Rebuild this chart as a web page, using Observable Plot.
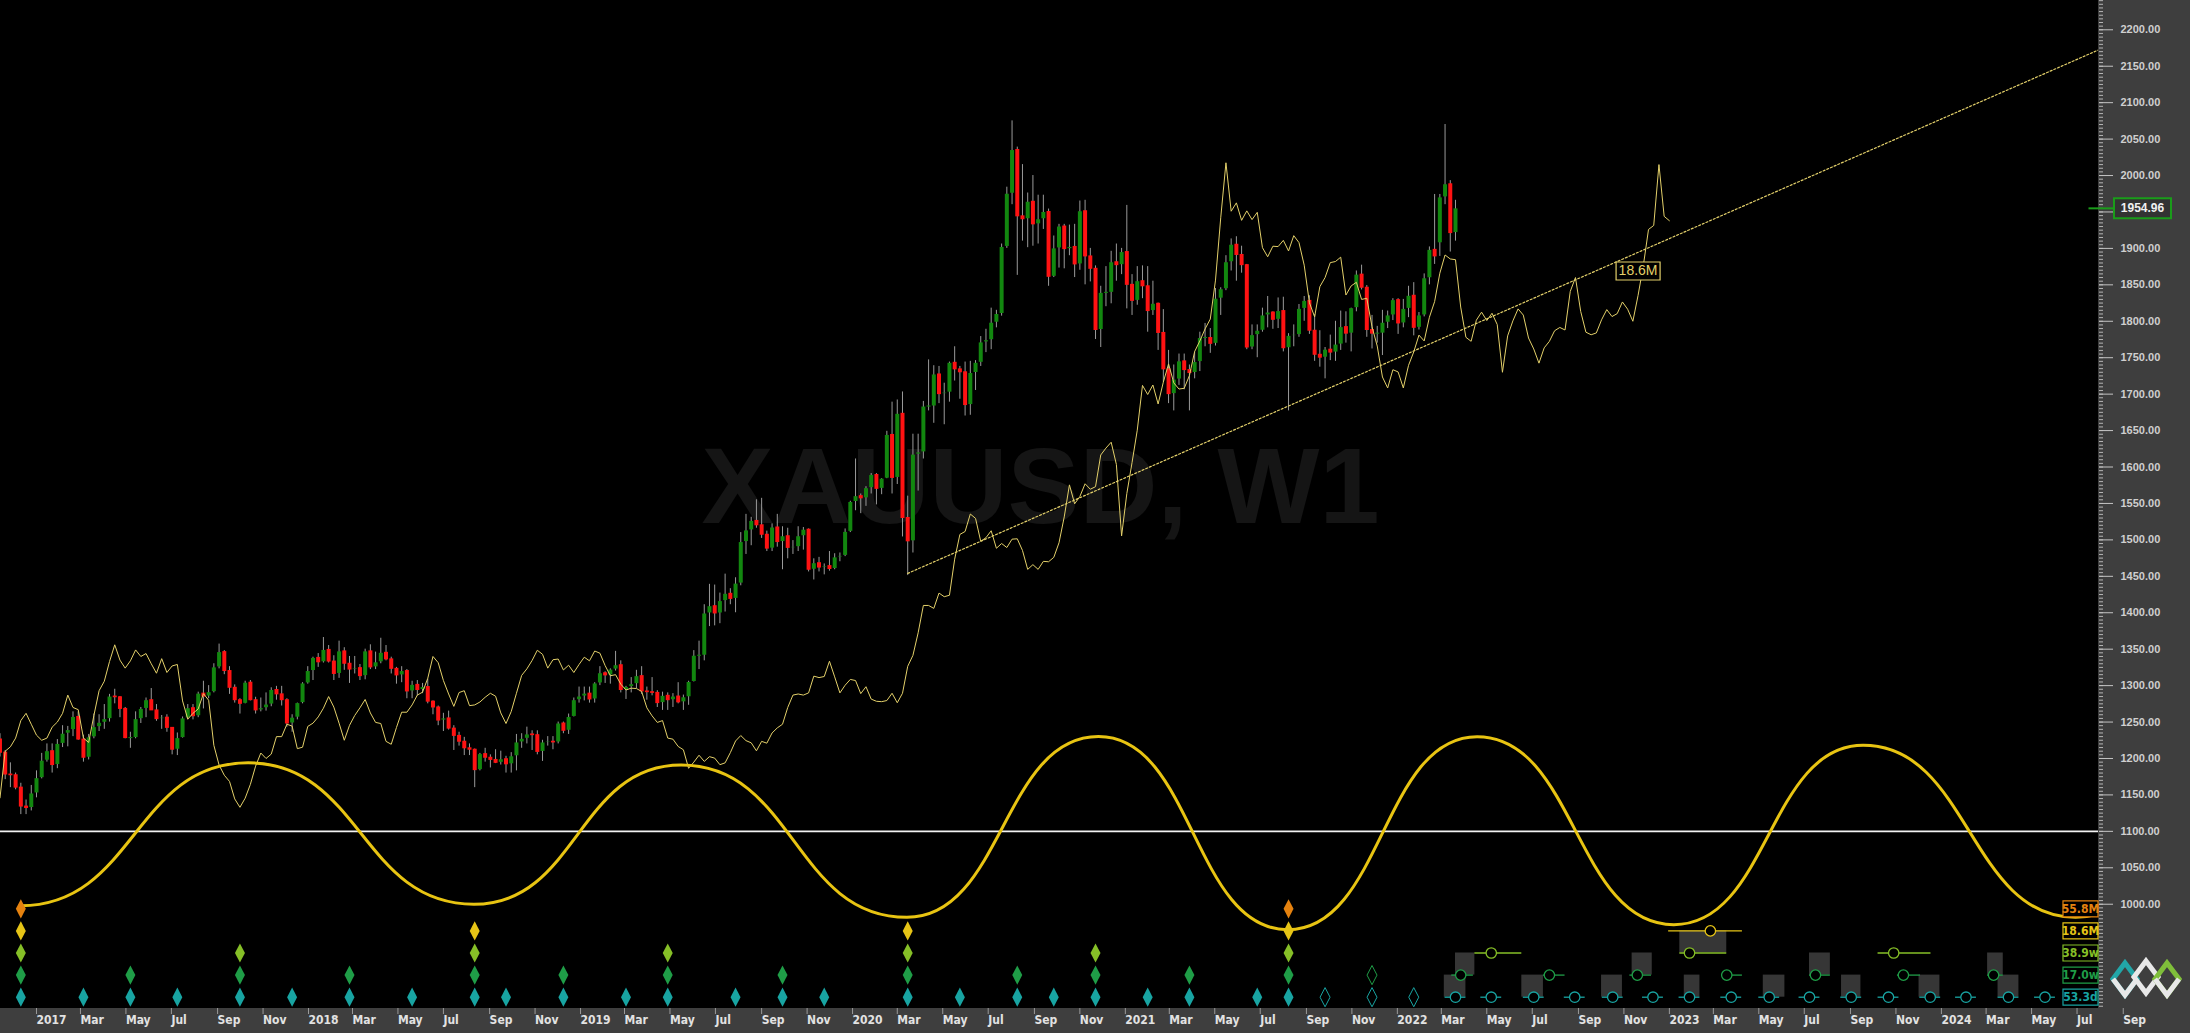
<!DOCTYPE html>
<html><head><meta charset="utf-8">
<script src="https://cdn.jsdelivr.net/npm/d3@7"></script>
<script src="https://cdn.jsdelivr.net/npm/@observablehq/plot@0.6"></script>
<style>
html,body{margin:0;padding:0;background:#000;}
#wrap{position:relative;width:2190px;height:1033px;background:#000;overflow:hidden;}
#rpanel{position:absolute;left:2098px;top:0;width:92px;height:1033px;background:#3e3e3e;}
#bpanel{position:absolute;left:0;top:1008px;width:2190px;height:25px;background:#3e3e3e;}
#chart{position:absolute;left:0;top:0;}
#logo{position:absolute;left:2110px;top:955px;}
</style></head><body>
<div id="wrap"><div id="rpanel"></div><div id="bpanel"></div><div id="chart"></div>
<svg id="logo" width="72" height="48" viewBox="0 0 72 48">
<polygon points="15,8 27,24 15,40 3,24" fill="none" stroke="#22a6a8" stroke-width="5"/>
<polygon points="36,6 48,22 36,38 24,22" fill="none" stroke="#e8e8e8" stroke-width="5"/>
<polygon points="57,8 69,24 57,40 45,24" fill="none" stroke="#7fbf3a" stroke-width="5"/>
<polyline points="3,24 15,40 27,24" fill="none" stroke="#e8e8e8" stroke-width="5"/>
<polyline points="45,24 57,40 69,24" fill="none" stroke="#e8e8e8" stroke-width="5"/>
</svg>
</div>
<script>
// ---------------- DATA ----------------
const symbolTitle = "XAUUSD, W1";
const firstWeek = "2016-11-13";      // Sunday time of the first weekly bar
const firstOpen = 1226;
const openGaps = {"2022-02-27": 1907}; // weekly opens that gapped away from the prior close

const weekClose = [
 1208,1178,1177,1160,1134,1132,1152,
 1173,1197,1210,1191,1220,1234,1239,1257,1226,1201,1229,1243,1249,1254,1285,1284,1268,1228,1228,1254,1268,1280,1266,1254,1256,1242,1212,1228,1255,1269,1258,1289,1285,1291,1325,1346,1320,1297,1280,1275,1304,1280,1266,1269,1274,1294,1288,1280,1248,1256,1276,1303,1320,
 1338,1332,1349,1333,1316,1347,1330,1322,1324,1313,1347,1325,1332,1345,1336,1323,1314,1320,1292,1301,1294,1298,1278,1270,1252,1255,1241,1231,1223,1214,1212,1184,1206,1201,1198,1194,1199,1192,1203,1222,1227,1233,1232,1209,1222,1223,1222,1248,1238,1257,1280,1285,
 1289,1281,1303,1317,1314,1322,1328,1294,1298,1302,1313,1292,1291,1290,1276,1286,1280,1285,1277,1284,1305,1341,1341,1399,1409,1399,1416,1426,1419,1440,1497,1513,1526,1520,1507,1488,1517,1497,1505,1489,1490,1505,1514,1459,1468,1462,1464,1460,1476,1478,1511,1552,
 1560,1557,1571,1589,1570,1584,1644,1585,1673,1530,1498,1617,1620,1683,1683,1727,1700,1702,1743,1734,1730,1685,1729,1743,1771,1774,1798,1810,1902,1975,2035,1944,1940,1964,1933,1940,1950,1861,1900,1930,1899,1902,1878,1951,1889,1872,1788,1839,1839,1881,1877,1895,
 1850,1828,1855,1848,1814,1824,1784,1734,1700,1720,1745,1733,1729,1744,1777,1777,1769,1831,1844,1881,1905,1891,1877,1764,1781,1787,1808,1812,1802,1814,1763,1780,1781,1817,1828,1787,1754,1750,1761,1757,1768,1792,1783,1818,1864,1846,1788,1783,1783,1798,1808,1829,
 1797,1817,1835,1791,1808,1859,1898,1889,1970,1988,1921,1954.96];

const weekHigh = [
 1234,1211,1194,1180,1166,1143,1163,
 1183,1207,1220,1220,1226,1245,1244,1264,1264,1232,1233,1261,1260,1274,1288,1295,1285,1270,1236,1264,1270,1283,1296,1274,1259,1260,1242,1235,1257,1274,1274,1291,1306,1300,1330,1357,1348,1326,1301,1282,1306,1307,1284,1283,1290,1297,1299,1299,1282,1260,1276,1304,1326,
 1339,1344,1366,1355,1341,1361,1352,1340,1340,1329,1350,1356,1346,1365,1355,1339,1325,1326,1322,1306,1307,1303,1309,1279,1272,1262,1265,1245,1236,1229,1220,1213,1207,1214,1205,1212,1210,1203,1208,1233,1234,1243,1238,1238,1225,1230,1230,1250,1250,1261,1283,1298,
 1298,1298,1304,1326,1319,1323,1347,1334,1299,1311,1321,1326,1298,1311,1293,1291,1290,1289,1304,1287,1306,1348,1361,1411,1439,1438,1427,1453,1433,1448,1510,1535,1531,1555,1557,1512,1522,1535,1518,1516,1499,1518,1517,1515,1474,1476,1467,1484,1481,1482,1515,1553,
 1611,1563,1573,1591,1591,1584,1649,1689,1692,1703,1560,1645,1645,1690,1747,1739,1738,1715,1744,1765,1738,1744,1745,1746,1779,1789,1818,1815,1906,1984,2075,2039,2015,1976,2000,1973,1973,1954,1917,1933,1933,1932,1933,1965,1966,1900,1876,1848,1875,1896,1906,1900,
 1959,1864,1875,1876,1875,1855,1825,1816,1760,1740,1755,1755,1740,1758,1785,1797,1790,1845,1846,1890,1913,1916,1903,1878,1795,1795,1818,1834,1813,1832,1833,1783,1795,1823,1834,1835,1809,1787,1764,1781,1800,1814,1813,1818,1869,1877,1849,1808,1793,1815,1814,1831,
 1831,1830,1848,1853,1812,1865,1902,1974,1974,2070,1993,1966];

const weekLow = [
 1202,1171,1160,1157,1123,1123,1128,
 1146,1172,1195,1180,1186,1215,1216,1230,1225,1195,1198,1227,1237,1240,1250,1275,1256,1227,1214,1227,1248,1256,1266,1251,1240,1236,1205,1204,1228,1253,1253,1256,1268,1282,1290,1323,1315,1288,1276,1261,1275,1279,1261,1264,1265,1271,1280,1272,1243,1236,1253,1275,1302,
 1307,1325,1331,1331,1307,1310,1321,1303,1316,1307,1308,1322,1322,1330,1334,1316,1302,1304,1282,1282,1286,1289,1275,1260,1245,1237,1239,1211,1217,1204,1204,1160,1183,1195,1187,1193,1191,1180,1180,1183,1214,1220,1211,1205,1196,1217,1212,1220,1234,1233,1257,1276,
 1279,1276,1276,1300,1303,1302,1320,1290,1281,1290,1296,1288,1280,1286,1270,1266,1266,1270,1275,1266,1273,1305,1322,1334,1381,1382,1385,1401,1411,1400,1437,1480,1492,1516,1502,1484,1484,1490,1459,1474,1480,1484,1486,1456,1445,1456,1452,1457,1459,1470,1477,1510,
 1540,1536,1546,1563,1548,1562,1584,1563,1576,1504,1451,1482,1567,1611,1677,1660,1687,1658,1689,1718,1693,1670,1671,1705,1738,1757,1761,1791,1807,1900,1960,1863,1910,1901,1903,1906,1926,1848,1860,1873,1872,1890,1860,1870,1850,1854,1775,1764,1820,1824,1855,1864,
 1817,1808,1822,1831,1785,1808,1760,1716,1687,1677,1712,1706,1677,1721,1731,1765,1756,1766,1808,1842,1869,1855,1866,1761,1761,1750,1785,1791,1789,1790,1758,1677,1765,1778,1800,1782,1745,1737,1721,1746,1745,1760,1770,1758,1813,1843,1778,1762,1770,1753,1790,1801,
 1782,1791,1805,1780,1788,1806,1850,1878,1889,1960,1895,1910];

// median price of the 41 weeks before the first bar (feeds the displaced 18.6M FLD)
const fldLeadMedian = [1146,1210,1216,1228,1252,1262,1247,1232,1225,1228,1243,1250,1262,1287,1270,1267,1228,1222,1259,1293,1306,1333,1356,1335,1324,1334,1349,1340,1344,1330,1317,1337,1318,1327,1329,1279,1254,1262,1268,1289,1280];
const fldShiftWeeks = 41;
const fldName = "18.6M";
const fldLabelDate = "2022-11-20", fldLabelPrice = 1869;

// trend line (start at the 2020 low, end at right edge)
const trendDates = ["2020-03-15", "2024-07-29"];
const trendPrices = [1454, 2172];

// 18.6M cycle sine: turning points (date, value)
const sineDates = ["2016-12-11","2017-10-12","2018-08-11","2019-05-16","2020-03-14","2020-11-26","2021-08-07","2022-04-18","2023-01-07","2023-09-18","2024-06-29","2025-03-20"];
const sineValues = [998,1194,1000,1191,982,1230,965,1230,972,1218,982,1215];
const sineBaseline = 1100;

// cycle rows (bottom panel)
const cycleNames = ["53.3d","17.0w","38.9w","18.6M","55.8M"];
const cycleColors = ["#18a4a2","#1f9d47","#86bf27","#e6c416","#e5820f"];
const troughs533d = ["2016-12-11","2017-03-05","2017-05-07","2017-07-09","2017-10-01","2017-12-10","2018-02-25","2018-05-20","2018-08-12","2018-09-23","2018-12-09","2019-03-03","2019-04-28","2019-07-28","2019-09-29","2019-11-24","2020-03-15","2020-05-24","2020-08-09","2020-09-27","2020-11-22","2021-01-31","2021-03-28","2021-06-27","2021-08-08"];
const troughs170w = ["2016-12-11","2017-05-07","2017-10-01","2018-02-25","2018-08-12","2018-12-09","2019-04-28","2019-09-29","2020-03-15","2020-08-09","2020-11-22","2021-03-28","2021-08-08"];
const troughs389w = ["2016-12-11","2017-10-01","2018-08-12","2019-04-28","2020-03-15","2020-11-22","2021-08-08"];
const troughs186M = ["2016-12-11","2018-08-12","2020-03-15","2021-08-08"];
const troughs558M = ["2016-12-11","2021-08-08"];
const pending533d = ["2021-09-26","2021-11-28","2022-01-23"];
const pending170w = ["2021-11-28"];

// projected troughs (circles) and their ranges
const proj533d = ["2022-03-20","2022-05-07","2022-07-03","2022-08-27","2022-10-17","2022-12-10","2023-01-28","2023-03-25","2023-05-15","2023-07-08","2023-09-02","2023-10-22","2023-12-17","2024-02-03","2024-03-31","2024-05-19"];
const proj533dHalfRangeDays = 14;
const proj170w = ["2022-03-27","2022-07-24","2022-11-19","2023-03-19","2023-07-16","2023-11-11","2024-03-11"];
const proj170wStart = ["2022-03-15","2022-07-16","2022-11-09","2023-03-12","2023-07-08","2023-11-03","2024-03-03"];
const proj170wEnd = ["2022-04-13","2022-08-14","2022-12-08","2023-04-09","2023-08-05","2023-12-04","2024-03-24"];
const proj389w = ["2022-05-07","2023-01-28","2023-10-29"];
const proj389wStart = ["2022-04-15","2023-01-15","2023-10-08"];
const proj389wEnd = ["2022-06-17","2023-03-19","2023-12-18"];
const proj186M = ["2023-02-25"];
const proj186MStart = ["2022-12-31"];
const proj186MEnd = ["2023-04-09"];

// grey projection boxes: [start, end] spanning from a row up to the next row
const box533dStart = ["2022-03-05","2022-06-17","2022-10-02","2023-01-21","2023-05-07","2023-08-20","2023-12-02","2024-03-17"];
const box533dEnd = ["2022-04-03","2022-07-16","2022-10-30","2023-02-11","2023-06-05","2023-09-15","2023-12-30","2024-04-14"];
const box170wStart = ["2022-03-20","2022-11-12","2023-07-08","2024-03-03"];
const box170wEnd = ["2022-04-15","2022-12-09","2023-08-05","2024-03-24"];
const box389wStart = ["2023-01-15"];
const box389wEnd = ["2023-03-19"];

// axes
const yTicks = [1000,1050,1100,1150,1200,1250,1300,1350,1400,1450,1500,1550,1600,1650,1700,1750,1800,1850,1900,1950,2000,2050,2100,2150,2200];
const monthNames = ["Jan","Feb","Mar","Apr","May","Jun","Jul","Aug","Sep","Oct","Nov","Dec"];

// ---------------- BUILD ----------------
const DAY = 864e5;
const D = s => new Date(s + "T00:00:00Z");
const t0 = D(firstWeek);
const bars = weekClose.map((c, i) => {
  const date = new Date(t0.getTime() + i * 7 * DAY);
  const key = date.toISOString().slice(0, 10);
  const open = openGaps[key] ?? (i === 0 ? firstOpen : weekClose[i - 1]);
  return {date, open, high: weekHigh[i], low: weekLow[i], close: c};
});
const lastClose = weekClose[weekClose.length - 1];

const fld = [];
for (let i = 0; i < bars.length + fldShiftWeeks; i++) {
  const src = i - fldShiftWeeks;
  const v = src < 0 ? fldLeadMedian[i] : (bars[src].high + bars[src].low) / 2;
  fld.push({date: new Date(t0.getTime() + i * 7 * DAY), value: v});
}
const sine = sineDates.map((d, i) => ({date: D(d), value: sineValues[i]}));
const trend = trendDates.map((d, i) => ({date: D(d), value: trendPrices[i]}));

const yDomain = [856.9, 2240.2];
const yMin = yDomain[0];
const rowOff = r => 11.3 + 22.1 * r;

const tallDiamond = {draw(ctx, size) { const r = Math.sqrt(size / Math.PI); ctx.moveTo(0, -r); ctx.lineTo(r * 0.52, 0); ctx.lineTo(0, r); ctx.lineTo(-r * 0.52, 0); ctx.closePath(); }};
const boxSym = (w, h) => ({draw(ctx) { ctx.rect(-w / 2, -h / 2, w, h); }});
const hSeg = (a, b) => ({draw(ctx) { ctx.moveTo(a, 0); ctx.lineTo(b, 0); }});

const trough = {0: troughs533d, 1: troughs170w, 2: troughs389w, 3: troughs186M, 4: troughs558M};
const pending = {0: pending533d, 1: pending170w};

const marks = [];
// watermark
marks.push(Plot.text([symbolTitle], {text: d => d, frameAnchor: "middle", dx: -9, dy: -16, fontSize: 108, fontWeight: "bold", fill: "#151515", fontFamily: "Liberation Sans, Arial, sans-serif"}));
// sine baseline
marks.push(Plot.ruleY([sineBaseline], {stroke: "#f2f2f2", strokeWidth: 1.6}));
// projection boxes
const boxRows = [
  {start: box533dStart, end: box533dEnd, row: 0},
  {start: box170wStart, end: box170wEnd, row: 1},
  {start: box389wStart, end: box389wEnd, row: 2}
];
for (const b of boxRows) {
  const data = b.start.map((s, i) => ({x1: D(s), x2: D(b.end[i])}));
  marks.push(Plot.rect(data, {x1: "x1", x2: "x2", y1: yMin, y2: yMin, insetTop: -rowOff(b.row + 1), insetBottom: rowOff(b.row), fill: "#363636"}));
}
// candles
marks.push(Plot.ruleX(bars, {x: "date", y1: "low", y2: "high", stroke: "#9a9a9a", strokeWidth: 1}));
marks.push(Plot.ruleX(bars, {x: "date", y1: "open", y2: "close", stroke: d => d.close >= d.open ? "#12870f" : "#ff1212", strokeWidth: 4, insetTop: -0.5, insetBottom: -0.5}));
// FLD, trend, sine
marks.push(Plot.line(fld, {x: "date", y: "value", stroke: "#e3d06a", strokeWidth: 1, clip: true}));
marks.push(Plot.line(trend, {x: "date", y: "value", stroke: "#e3d06a", strokeWidth: 1.2, strokeDasharray: "2,2", clip: true}));
marks.push(Plot.line(sine, {x: "date", y: "value", curve: "bump-x", stroke: "#e8c412", strokeWidth: 3, clip: true}));
// FLD label on trend line
marks.push(Plot.dot([0], {x: () => D(fldLabelDate), y: () => fldLabelPrice, symbol: boxSym(44, 18), r: 1, fill: "#000", stroke: "#e3d06a", strokeWidth: 1.2}));
marks.push(Plot.text([fldName], {x: () => D(fldLabelDate), y: () => fldLabelPrice, text: d => d, fill: "#e3d06a", fontSize: 14, fontFamily: "Liberation Sans, Arial, sans-serif"}));
// trough diamonds
for (let r = 0; r < 5; r++) {
  marks.push(Plot.dot(trough[r], {x: d => D(d), y: yMin, dy: -rowOff(r), symbol: tallDiamond, r: 9.6, fill: cycleColors[r], stroke: "none"}));
  if (pending[r]) marks.push(Plot.dot(pending[r], {x: d => D(d), y: yMin, dy: -rowOff(r), symbol: tallDiamond, r: 9.6, fill: "#000", stroke: cycleColors[r], strokeWidth: 1}));
}
// projected troughs
const projRows = [
  {row: 0, data: proj533d.map(d => ({c: D(d), s: new Date(D(d) - proj533dHalfRangeDays * DAY), e: new Date(+D(d) + proj533dHalfRangeDays * DAY)}))},
  {row: 1, data: proj170w.map((d, i) => ({c: D(d), s: D(proj170wStart[i]), e: D(proj170wEnd[i])}))},
  {row: 2, data: proj389w.map((d, i) => ({c: D(d), s: D(proj389wStart[i]), e: D(proj389wEnd[i])}))},
  {row: 3, data: proj186M.map((d, i) => ({c: D(d), s: D(proj186MStart[i]), e: D(proj186MEnd[i])}))}
];
for (const p of projRows) {
  marks.push(Plot.ruleY(p.data, {y: yMin, x1: "s", x2: "e", dy: -rowOff(p.row), stroke: cycleColors[p.row], strokeWidth: 1.3}));
  marks.push(Plot.dot(p.data, {x: "c", y: yMin, dy: -rowOff(p.row), r: 5.2, fill: "#000", stroke: cycleColors[p.row], strokeWidth: 1.3}));
}
// cycle labels at right edge
for (let r = 0; r < 5; r++) {
  marks.push(Plot.dot([cycleNames[r]], {frameAnchor: "bottom-right", dx: -18, dy: -rowOff(r), symbol: boxSym(35, 16), r: 1, fill: "#000", stroke: cycleColors[r], strokeWidth: 1.2}));
  marks.push(Plot.text([cycleNames[r]], {text: d => d, frameAnchor: "bottom-right", dx: -18, dy: -rowOff(r), textAnchor: "middle", lineAnchor: "middle", fill: cycleColors[r], fontSize: 12, fontWeight: "bold", fontFamily: "Liberation Sans Narrow, Arial Narrow, DejaVu Sans Condensed, sans-serif"}));
}
// axes
marks.push(Plot.axisY({anchor: "right", ticks: d3.range(860, 2241, 5), tickSize: 4, tickFormat: () => "", stroke: "#b5b5b5"}));
marks.push(Plot.axisY({anchor: "right", ticks: yTicks, tickSize: 14, tickPadding: 8, tickFormat: d => d.toFixed(2), stroke: "#c4c4c4", fill: "#cfcfcf", fontSize: 11, fontWeight: "bold", fontFamily: "Liberation Sans, Arial, sans-serif"}));
const xTicks = d3.utcMonth.every(2).range(D("2017-01-01"), D("2024-10-01"));
marks.push(Plot.axisX({ticks: xTicks, tickSize: 6, tickPadding: 1, textAnchor: "start", dx: 0, tickFormat: d => d.getUTCMonth() === 0 ? String(d.getUTCFullYear()) : monthNames[d.getUTCMonth()], stroke: "#9a9a9a", fill: "#e2e2e2", fontSize: 12, fontWeight: "bold", fontFamily: "Liberation Sans Narrow, Arial Narrow, DejaVu Sans Condensed, sans-serif"}));
// current price marker
marks.push(Plot.dot([lastClose], {y: d => d, frameAnchor: "right", symbol: hSeg(-10, 15), r: 1, fill: "none", stroke: "#1a9c1a", strokeWidth: 2}));
marks.push(Plot.dot([lastClose], {y: d => d, frameAnchor: "right", dx: 44, symbol: boxSym(57, 20), r: 1, fill: "#333", stroke: "#1a9c1a", strokeWidth: 2}));
marks.push(Plot.text([lastClose], {y: d => d, text: d => d.toFixed(2), frameAnchor: "right", dx: 44, textAnchor: "middle", lineAnchor: "middle", fill: "#f0f0f0", fontSize: 12, fontWeight: "bold", fontFamily: "Liberation Sans, Arial, sans-serif"}));

const chart = Plot.plot({
  width: 2190, height: 1033,
  marginLeft: 0, marginRight: 92, marginTop: 0, marginBottom: 25,
  x: {type: "utc", domain: [new Date("2016-11-13T17:00:00Z"), new Date("2024-07-29T19:00:00Z")]},
  y: {domain: yDomain},
  style: {background: "transparent", color: "#cfcfcf", fontFamily: "Liberation Sans, Arial, sans-serif", fontSize: "11px", overflow: "visible"},
  marks
});
document.getElementById("chart").appendChild(chart);
</script>
</body></html>
